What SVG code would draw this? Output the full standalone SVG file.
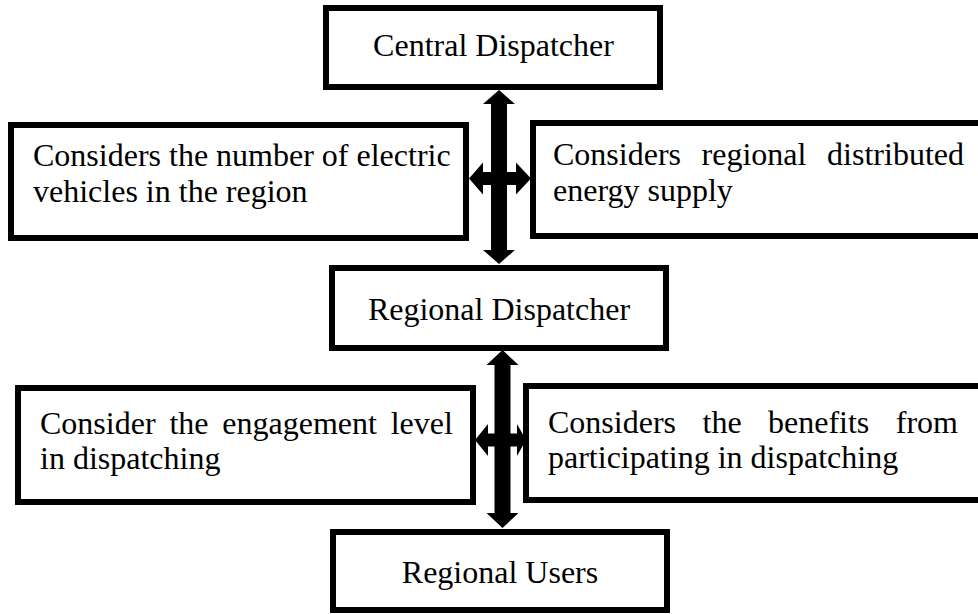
<svg xmlns="http://www.w3.org/2000/svg" width="978" height="614" viewBox="0 0 978 614">
<style>
.box{fill:#fff;stroke:#000;stroke-width:6}
.t{font-family:"Liberation Serif","Times New Roman",serif;font-size:32px;fill:#000}
.c{text-anchor:middle}
.arr{fill:#000;stroke:none}
</style>
<rect width="978" height="614" fill="#fff"/>
<g id="central">
<rect class="box" x="326" y="8" width="334" height="79"/>
<text class="t c" x="493.5" y="56">Central Dispatcher</text>
</g>
<g id="ev-count">
<rect class="box" x="11" y="125" width="455" height="113"/>
<text class="t" x="33" y="166">Considers the number of electric</text>
<text class="t" x="33" y="202">vehicles in the region</text>
</g>
<g id="energy-supply">
<rect class="box" x="533" y="123" width="452" height="113"/>
<text class="t" y="165"><tspan x="553">Considers</tspan><tspan x="701.6">regional</tspan><tspan x="827.1">distributed</tspan></text>
<text class="t" x="553" y="201">energy supply</text>
</g>
<g id="regional">
<rect class="box" x="332" y="268" width="334" height="80"/>
<text class="t c" x="499" y="320">Regional Dispatcher</text>
</g>
<g id="engagement">
<rect class="box" x="18" y="388" width="455" height="114"/>
<text class="t" y="434"><tspan x="40">Consider</tspan><tspan x="169.4">the</tspan><tspan x="222.3">engagement</tspan><tspan x="390.7">level</tspan></text>
<text class="t" x="40" y="469">in dispatching</text>
</g>
<g id="benefits">
<rect class="box" x="526" y="386" width="458" height="114"/>
<text class="t" y="433"><tspan x="548">Considers</tspan><tspan x="702.5">the</tspan><tspan x="768">benefits</tspan><tspan x="895.8">from</tspan></text>
<text class="t" x="548" y="468">participating in dispatching</text>
</g>
<g id="users">
<rect class="box" x="333" y="532" width="334" height="78"/>
<text class="t c" x="500" y="583">Regional Users</text>
</g>
<g id="connectors">
<polygon class="arr" points="499,90 515,104 507,104 507,250 515,250 499,264 483,250 491,250 491,104 483,104"/>
<polygon class="arr" points="469,178.5 483,162.5 483,172 516,172 516,162.5 531,178.5 516,194.5 516,185 483,185 483,194.5"/>
<polygon class="arr" points="502.5,350 518.5,365 510.5,365 510.5,513 518.5,513 502.5,528 486.5,513 494.5,513 494.5,365 486.5,365"/>
<polygon class="arr" points="475,440 488,424 488,433.5 517,433.5 517,424 526,440 517,456 517,446.5 488,446.5 488,456"/>
</g>
</svg>
